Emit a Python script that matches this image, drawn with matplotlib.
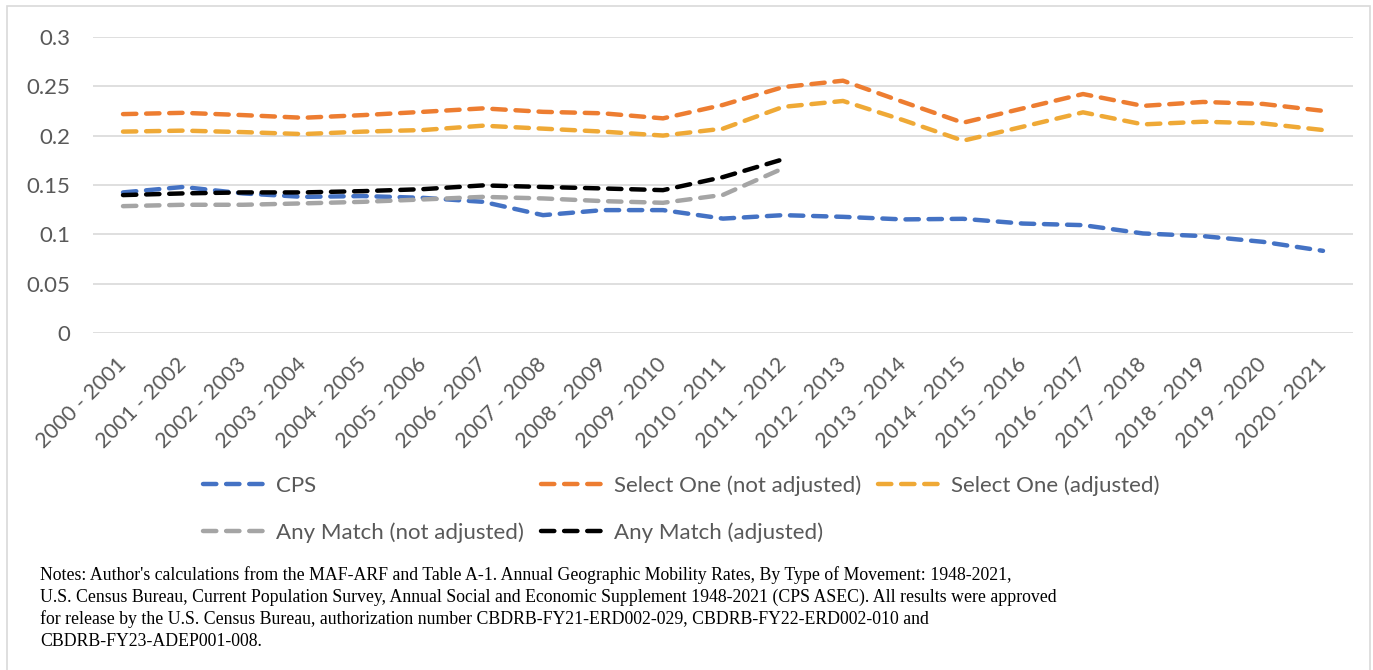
import numpy as np
import matplotlib
matplotlib.use("Agg")
from matplotlib import pyplot as plt
from matplotlib.lines import Line2D
from matplotlib.patches import Rectangle

periods = ["%d - %d" % (y, y + 1) for y in range(2000, 2021)]

cps = [0.1425, 0.148, 0.1415, 0.138, 0.1388, 0.137, 0.133, 0.1195, 0.1246,
       0.1246, 0.116, 0.1195, 0.1178, 0.1152, 0.1158, 0.111, 0.1094, 0.101,
       0.0983, 0.0925, 0.0834]
select_na = [0.2217, 0.223, 0.2207, 0.218, 0.2207, 0.224, 0.2275, 0.224,
             0.2225, 0.2174, 0.231, 0.249, 0.2555, 0.234, 0.213, 0.2275,
             0.242, 0.230, 0.234, 0.232, 0.225]
select_adj = [0.204, 0.205, 0.2035, 0.2015, 0.204, 0.2056, 0.210, 0.207,
              0.204, 0.200, 0.207, 0.229, 0.235, 0.2157, 0.1948, 0.209,
              0.2235, 0.2113, 0.214, 0.2123, 0.2056]
any_na = [0.1286, 0.130, 0.130, 0.1314, 0.133, 0.1354, 0.138, 0.1364,
          0.1337, 0.132, 0.140, 0.1668]
any_adj = [0.1398, 0.1415, 0.1425, 0.1425, 0.1438, 0.1458, 0.1496, 0.148,
           0.1465, 0.1448, 0.158, 0.176]

series = [
    ("CPS", cps, "#4472C4"),
    ("Select One (not adjusted)", select_na, "#ED7D31"),
    ("Select One (adjusted)", select_adj, "#EFA936"),
    ("Any Match (not adjusted)", any_na, "#A5A5A5"),
    ("Any Match (adjusted)", any_adj, "#000000"),
]

note = ("Notes: Author's calculations from the MAF-ARF and Table A-1. Annual Geographic Mobility Rates, "
        "By Type of Movement: 1948-2021,\n"
        "U.S. Census Bureau, Current Population Survey, Annual Social and Economic Supplement 1948-2021 "
        "(CPS ASEC). All results were approved\n"
        "for release by the U.S. Census Bureau, authorization number CBDRB-FY21-ERD002-029, "
        "CBDRB-FY22-ERD002-010 and\n"
        "CBDRB-FY23-ADEP001-008.")

plt.rc("font", family=["Lato", "DejaVu Sans"], size=16)

W, H = 1373, 670
fig = plt.figure(figsize=(W / 100, H / 100), dpi=100)
fig.patch.set_facecolor("white")
fig.add_artist(Rectangle((7 / W, -0.01), (1370 - 7) / W, 1.01 - 6 / H,
                         transform=fig.transFigure, fill=False,
                         edgecolor="#D9D9D9", lw=1.2))

ax = fig.add_axes([93 / W, (H - 333.3) / H, (1353 - 93) / W, (333.3 - 36.7) / H])

x = np.arange(len(periods))
dash = (0, (3.0, 2.2))
handles = []
for name, vals, col in series:
    ax.plot(x[:len(vals)], vals, color=col, lw=3.2, linestyle=dash,
            dash_capstyle="round", solid_capstyle="round")
    handles.append(Line2D([], [], color=col, lw=3.2, linestyle=dash,
                          dash_capstyle="round", label=name))

ax.set_xlim(-0.5, len(periods) - 0.5)
ax.set_ylim(0, 0.3)
ax.set_yticks([0, 0.05, 0.1, 0.15, 0.2, 0.25, 0.3])
ax.set_yticklabels(["0", "0.05", "0.1", "0.15", "0.2", "0.25", "0.3"])
ax.set_xticks(x)
ax.set_xticklabels(periods, rotation=45, ha="right", va="center",
                   rotation_mode="anchor")
ax.tick_params(axis="both", length=0, colors="#595959", labelsize=16)
ax.tick_params(axis="x", labelsize=15.5, pad=20)
ax.tick_params(axis="y", pad=16.5)
ax.grid(axis="y", color="#D9D9D9", lw=1.2)
ax.set_axisbelow(True)
for s in ax.spines.values():
    s.set_visible(False)

order = [0, 3, 1, 4, 2]
leg = fig.legend([handles[i] for i in order], [series[i][0] for i in order],
                 ncol=3, loc="upper left", bbox_to_anchor=(203 / W, 1 - 475 / H),
                 frameon=False, fontsize=16, handlelength=2.9, handletextpad=0.4,
                 columnspacing=0.75, labelspacing=1.2, borderpad=0,
                 borderaxespad=0)
for t in leg.get_texts():
    t.set_color("#595959")

fig.text(40 / W, 1 - 566 / H, note, family="Liberation Serif", fontsize=12.8,
         va="top", ha="left", linespacing=1.34, color="#000000")

fig.savefig("out.png", dpi=100)
